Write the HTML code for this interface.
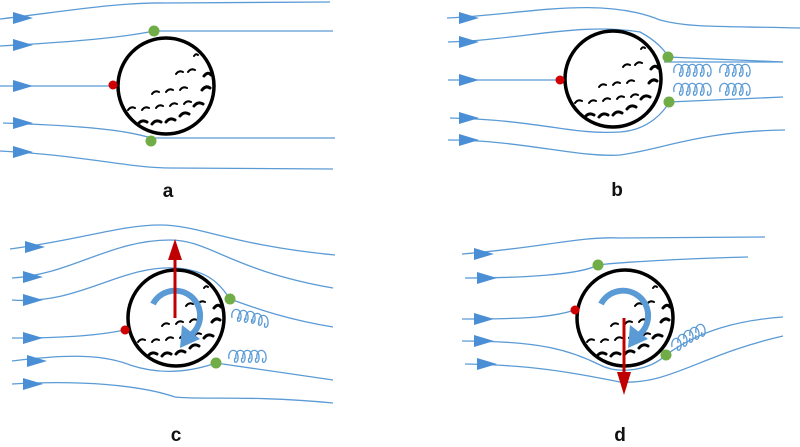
<!DOCTYPE html>
<html><head><meta charset="utf-8"><style>
html,body{margin:0;padding:0;background:#fff;}
svg{display:block}
text{font-family:"Liberation Sans",sans-serif;font-weight:bold;font-size:19px;fill:#111}
</style></head><body>
<svg width="800" height="447" viewBox="0 0 800 447" xmlns="http://www.w3.org/2000/svg">
<defs>
<path id="ah" d="M0,-6 L20,0 L0,6 Z" fill="#4a8fd6"/>
<path id="loop" d="M0,3 c-2,-11 10,-12 9,0 c-1,5 -5,4 -3,-1" fill="none" stroke="#5b9bd5" stroke-width="1.3"/>
<g id="ball">
<circle cx="0" cy="0" r="48" fill="#fff" stroke="#000" stroke-width="3.5"/>
<g fill="none" stroke="#000" stroke-width="2" stroke-linecap="round">
<path d="M-38,24 q3,-4 7,-2"/><path d="M-24,24 q3,-4 7,-2"/><path d="M-10,22 q3,-4 7,-2"/>
<path d="M4,20 q3,-4 7,-2"/><path d="M18,18 q3,-4 7,-2"/>
<path d="M-14,8 q3,-4 7,-2"/><path d="M0,6 q3,-4 7,-2"/><path d="M14,4 q3,-4 7,-2"/>
<path d="M10,-12 q3,-4 7,-2"/><path d="M22,-14 q3,-4 7,-2"/><path d="M28,-30 q2,-3 4,-1"/>
<path d="M-28,38 q4,-5 9,-2" stroke-width="3"/><path d="M-14,38 q4,-5 9,-2" stroke-width="3"/>
<path d="M0,36 q4,-5 9,-2" stroke-width="3"/><path d="M14,30 q4,-5 9,-2" stroke-width="3"/>
<path d="M28,20 q4,-5 9,-2" stroke-width="3"/><path d="M36,4 q4,-5 8,-2" stroke-width="3"/>
<path d="M38,-10 q4,-5 7,-1" stroke-width="3"/>
</g>
</g>
<g id="spin">
<path d="M-23,-11 A25,25 0 1 1 15,20" fill="none" stroke="#5b9bd5" stroke-width="6"/>
<path d="M4,33 L6,10 L24,24 Z" fill="#5b9bd5"/>
</g>
</defs>
<g fill="none" stroke="#5b9bd5" stroke-width="1.3">
<path d="M0,19 C60,12 120,2 165,3 L330,2"/>
<path d="M0,46 C70,42 120,38 154,31 L333,31"/>
<path d="M0,86 L113,86"/>
<path d="M3,123 C60,125 120,128 151,138 L335,138"/>
<path d="M0,151 C80,155 130,168 170,168 L333,169"/>
<path d="M447,18 C520,15 600,-5 660,20 C690,28 720,26 800,28"/>
<path d="M448,42 C520,40 580,22 640,32 C655,40 665,50 668,57 L783,62"/>
<path d="M448,80 L560,80"/>
<path d="M450,118 C540,120 570,135 620,132 C650,130 665,110 669,102 L783,97"/>
<path d="M448,140 C520,140 580,158 620,155 C660,150 700,131 785,130"/>
<path d="M10,249 C80,240 120,225 160,225 C200,225 230,245 335,255"/>
<path d="M12,278 C70,275 110,240 170,240 C210,240 230,270 333,288"/>
<path d="M12,300 C80,305 120,265 175,268 C215,270 225,293 230,299 C260,310 290,320 333,327"/>
<path d="M12,338 C70,338 100,335 125,330"/>
<path d="M12,361 C60,355 100,353 130,365 C160,375 190,372 216,363 L333,380"/>
<path d="M12,384 C80,380 140,385 175,397 C200,400 250,395 333,403"/>
<path d="M462,254 C540,248 580,236 620,238 L765,237"/>
<path d="M465,278 C520,278 580,275 598,265 C620,262 700,258 748,257"/>
<path d="M462,319 C520,319 550,318 575,310"/>
<path d="M462,341 C540,341 570,350 600,365 C620,375 650,370 666,355 C700,330 740,320 783,317"/>
<path d="M465,364 C530,365 570,372 620,382 C670,385 700,355 783,336"/>
</g>
<use href="#ah" x="13" y="18"/><use href="#ah" x="13" y="45"/><use href="#ah" x="13" y="86"/><use href="#ah" x="13" y="123"/><use href="#ah" x="13" y="152"/>
<use href="#ah" x="459" y="18"/><use href="#ah" x="459" y="42"/><use href="#ah" x="459" y="80"/><use href="#ah" x="459" y="118"/><use href="#ah" x="459" y="140"/>
<use href="#ah" x="25" y="247"/><use href="#ah" x="23" y="277"/><use href="#ah" x="23" y="300"/><use href="#ah" x="23" y="338"/><use href="#ah" x="27" y="361"/><use href="#ah" x="23" y="384"/>
<use href="#ah" x="474" y="254"/><use href="#ah" x="477" y="278"/><use href="#ah" x="474" y="319"/><use href="#ah" x="474" y="341"/><use href="#ah" x="477" y="364"/>
<use href="#ball" x="166" y="86"/>
<use href="#ball" x="613" y="79"/>
<use href="#ball" x="176" y="318"/>
<use href="#ball" x="625" y="318"/>
<g>
<use href="#loop" x="674" y="70"/><use href="#loop" x="681" y="70"/><use href="#loop" x="688" y="70"/><use href="#loop" x="695" y="70"/><use href="#loop" x="702" y="70"/>
<use href="#loop" x="720" y="70"/><use href="#loop" x="727" y="70"/><use href="#loop" x="734" y="70"/><use href="#loop" x="741" y="70"/>
<use href="#loop" x="674" y="89"/><use href="#loop" x="681" y="89"/><use href="#loop" x="688" y="89"/><use href="#loop" x="695" y="89"/><use href="#loop" x="702" y="89"/>
<use href="#loop" x="720" y="89"/><use href="#loop" x="727" y="89"/><use href="#loop" x="734" y="89"/><use href="#loop" x="741" y="89"/>
<use href="#loop" x="232" y="315"/><use href="#loop" x="239" y="316"/><use href="#loop" x="246" y="317"/><use href="#loop" x="253" y="319"/><use href="#loop" x="259" y="321"/>
<use href="#loop" x="229" y="356"/><use href="#loop" x="236" y="356"/><use href="#loop" x="243" y="356"/><use href="#loop" x="250" y="356"/><use href="#loop" x="257" y="356"/>
<use href="#loop" x="672" y="344"/><use href="#loop" x="678" y="340"/><use href="#loop" x="684" y="336"/><use href="#loop" x="690" y="333"/><use href="#loop" x="696" y="330"/>
</g>
<line x1="664" y1="62" x2="783" y2="62" stroke="#5b9bd5" stroke-width="1.3"/>
<use href="#spin" x="176" y="315"/>
<use href="#spin" x="624" y="315"/>
<line x1="175" y1="318" x2="175" y2="258" stroke="#c00000" stroke-width="3"/>
<path d="M168,260 L175,239 L182,260 Z" fill="#c00000"/>
<line x1="624" y1="318" x2="624" y2="374" stroke="#c00000" stroke-width="3"/>
<path d="M617,372 L624,395 L631,372 Z" fill="#c00000"/>
<g fill="#70ad47">
<circle cx="154" cy="31" r="5.5"/><circle cx="151" cy="141" r="5.5"/>
<circle cx="668" cy="57" r="5.5"/><circle cx="669" cy="102" r="5.5"/>
<circle cx="230" cy="299" r="5.5"/><circle cx="216" cy="363" r="5.5"/>
<circle cx="598" cy="265" r="5.5"/><circle cx="666" cy="355" r="5.5"/>
</g>
<g fill="#d00000">
<circle cx="113" cy="85" r="4.5"/><circle cx="560" cy="80" r="4.5"/>
<circle cx="125" cy="330" r="4.5"/><circle cx="575" cy="310" r="4.5"/>
</g>
<text x="168" y="197" text-anchor="middle">a</text>
<text x="617" y="196" text-anchor="middle">b</text>
<text x="176" y="441" text-anchor="middle">c</text>
<text x="620" y="441" text-anchor="middle">d</text>
</svg>
</body></html>
